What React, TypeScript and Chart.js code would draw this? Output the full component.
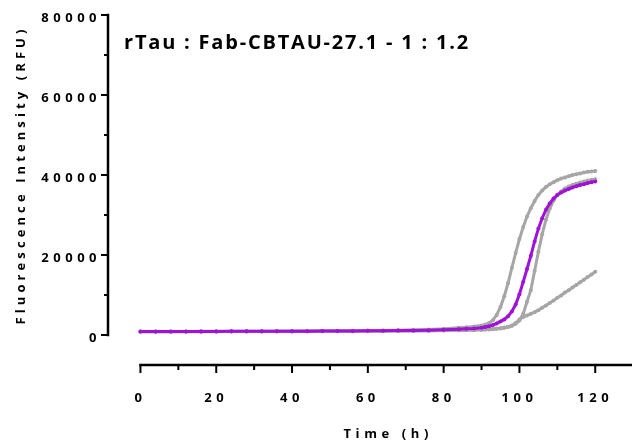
import { useEffect, useRef } from 'react';
import { Chart, registerables } from 'chart.js';

Chart.register(...registerables);

// ---- data ----
const chartTitle = 'rTau : Fab-CBTAU-27.1 - 1 : 1.2';
const xTitle = 'Time (h)';
const yTitle = 'Fluorescence Intensity (RFU)';

const xTickValues = [0, 20, 40, 60, 80, 100, 120];
const xMinorValues = [10, 30, 50, 70, 90, 110];
const yTickValues = [0, 20000, 40000, 60000, 80000];
const yMinorValues = [10000, 30000, 50000, 70000];

const times = [
  0, 4, 8, 12, 16, 20, 24, 28, 32, 36, 40, 44, 48, 52, 56, 60, 64, 68, 72, 76, 80,
  84, 86, 88, 90, 91, 92, 93, 94, 95, 96, 97, 98, 99, 100, 101, 102, 103, 104, 105,
  106, 107, 108, 109, 110, 111, 112, 113, 114, 115, 116, 117, 118, 119, 120,
];

const purple = [
  850, 860, 870, 880, 890, 900, 910, 920, 930, 940, 950, 960, 980, 1000, 1020, 1040, 1070, 1100, 1150, 1200, 1300,
  1450, 1550, 1650, 1800, 2000, 2200, 2500, 2900, 3400, 3900, 4700, 5900, 7600, 10200, 13300, 16500, 19800, 23400, 26600,
  29200, 31300, 32900, 34100, 35000, 35600, 36100, 36500, 36900, 37200, 37500, 37700, 38000, 38200, 38400,
];

const gray1 = [
  870, 880, 890, 900, 910, 920, 930, 940, 950, 960, 980, 1000, 1020, 1040, 1070, 1100, 1150, 1200, 1300, 1400, 1550,
  1800, 1950, 2150, 2400, 2600, 3000, 3700, 5000, 7000, 9700, 13000, 16800, 20500, 24000, 27000, 29600, 31700, 33500, 35000,
  36100, 37000, 37700, 38200, 38700, 39100, 39400, 39700, 40000, 40200, 40400, 40600, 40800, 40900, 41000,
];

const gray2 = [
  800, 810, 820, 830, 840, 850, 860, 870, 880, 890, 900, 910, 920, 930, 940, 950, 970, 990, 1020, 1050, 1100,
  1150, 1200, 1250, 1300, 1350, 1400, 1450, 1550, 1650, 1800, 2000, 2300, 2800, 3600, 5300, 8300, 11200, 16000, 20800,
  25200, 28800, 31600, 33600, 35000, 35900, 36600, 37100, 37500, 37800, 38100, 38400, 38600, 38800, 38950,
];

const gray3 = [
  820, 830, 840, 850, 860, 870, 880, 890, 900, 910, 920, 930, 940, 950, 960, 980, 1000, 1020, 1050, 1080, 1120,
  1180, 1230, 1280, 1330, 1380, 1430, 1500, 1600, 1700, 1850, 2050, 2400, 3000, 3900, 4500, 4900, 5300, 5700, 6200,
  6800, 7400, 8000, 8600, 9300, 9900, 10600, 11200, 11900, 12500, 13200, 13800, 14500, 15100, 15800,
];

const PURPLE = '#A012D8';
const GRAY = '#A6A6A6';
const FONT = '"Open Sans", Lato, sans-serif';

const X_MIN = -8.56;
const X_MAX = 129.7;
const Y_MIN = -7500;
const Y_MAX = 80000;

const prismAxes = {
  id: 'prismAxes',
  beforeDraw(chart: any) {
    chart.ctx.letterSpacing = '4.5px';
  },
  afterDraw(chart: any) {
    const ctx = chart.ctx as CanvasRenderingContext2D;
    const xs = chart.scales.x;
    const ys = chart.scales.y;
    const area = chart.chartArea;
    ctx.save();
    ctx.strokeStyle = '#000';
    ctx.lineWidth = 2.5;
    ctx.lineCap = 'butt';
    // y axis
    const yAxisX = area.left;
    const yTop = ys.getPixelForValue(Y_MAX);
    const yBot = ys.getPixelForValue(0);
    ctx.beginPath();
    ctx.moveTo(yAxisX, yTop - 1.2);
    ctx.lineTo(yAxisX, yBot + 1.2);
    ctx.stroke();
    ctx.lineWidth = 2;
    yTickValues.forEach((v) => {
      const p = ys.getPixelForValue(v);
      ctx.beginPath();
      ctx.moveTo(yAxisX, p);
      ctx.lineTo(yAxisX - 7, p);
      ctx.stroke();
    });
    yMinorValues.forEach((v) => {
      const p = ys.getPixelForValue(v);
      ctx.beginPath();
      ctx.moveTo(yAxisX, p);
      ctx.lineTo(yAxisX - 4, p);
      ctx.stroke();
    });
    // x axis
    const xAxisY = area.bottom;
    const xLeft = xs.getPixelForValue(0);
    ctx.lineWidth = 2.5;
    ctx.beginPath();
    ctx.moveTo(xLeft - 1.2, xAxisY);
    ctx.lineTo(area.right, xAxisY);
    ctx.stroke();
    ctx.lineWidth = 2;
    xTickValues.forEach((v) => {
      const p = xs.getPixelForValue(v);
      ctx.beginPath();
      ctx.moveTo(p, xAxisY);
      ctx.lineTo(p, xAxisY + 8);
      ctx.stroke();
    });
    xMinorValues.forEach((v) => {
      const p = xs.getPixelForValue(v);
      ctx.beginPath();
      ctx.moveTo(p, xAxisY);
      ctx.lineTo(p, xAxisY + 5);
      ctx.stroke();
    });

    // titles
    ctx.fillStyle = '#000';
    ctx.font = `bold 20px ${FONT}`;
    ctx.letterSpacing = '1.8px';
    ctx.textAlign = 'left';
    ctx.textBaseline = 'alphabetic';
    ctx.fillText(chartTitle, 124, 49);

    ctx.font = `bold 13px ${FONT}`;
    ctx.letterSpacing = '4.6px';
    ctx.textAlign = 'center';
    ctx.textBaseline = 'middle';
    ctx.fillText(xTitle, (xLeft + area.right) / 2 + 2, 434);

    ctx.letterSpacing = '4.1px';
    ctx.translate(21, (yTop + yBot) / 2);
    ctx.rotate(-Math.PI / 2);
    ctx.fillText(yTitle, 0, 0);
    ctx.restore();
    ctx.letterSpacing = '0px';
  },
};

export default function App() {
  const ref = useRef<HTMLCanvasElement>(null);
  useEffect(() => {
    document.body.style.margin = '0';
    const mk = (label: string, vals: number[], color: string, order: number) => ({
      label,
      data: times.map((t, i) => ({ x: t, y: vals[i] })),
      borderColor: color,
      backgroundColor: color,
      pointBackgroundColor: color,
      pointBorderWidth: 0,
      pointRadius: 2,
      borderWidth: 3,
      tension: 0,
      order,
    });
    const chart = new Chart(ref.current!, {
      type: 'line',
      data: {
        datasets: [
          mk('Purple', purple, PURPLE, 0),
          mk('Gray 1', gray1, GRAY, 1),
          mk('Gray 2', gray2, GRAY, 2),
          mk('Gray 3', gray3, GRAY, 3),
        ],
      },
      options: {
        animation: false,
        responsive: false,
        devicePixelRatio: 1,
        layout: { padding: { top: 15, left: 0, right: 0, bottom: 0 } },
        plugins: { legend: { display: false }, tooltip: { enabled: false }, title: { display: false } },
        scales: {
          x: {
            type: 'linear',
            min: X_MIN,
            max: X_MAX,
            grid: { display: false, drawTicks: false },
            border: { display: false },
            afterBuildTicks: (s: any) => {
              s.ticks = xTickValues.map((v) => ({ value: v }));
            },
            afterFit: (s: any) => {
              s.height = 82;
              s.paddingLeft = 0;
              s.paddingRight = 0;
            },
            ticks: {
              autoSkip: false,
              maxRotation: 0,
              padding: 25,
              color: '#000',
              font: { family: FONT, size: 13, weight: 'bold' },
              callback: (v: any) => String(v),
            },
          },
          y: {
            type: 'linear',
            min: Y_MIN,
            max: Y_MAX,
            grid: { display: false, drawTicks: false },
            border: { display: false },
            afterBuildTicks: (s: any) => {
              s.ticks = yTickValues.map((v) => ({ value: v }));
            },
            afterFit: (s: any) => {
              s.width = 108;
              s.paddingTop = 0;
              s.paddingBottom = 0;
            },
            ticks: {
              autoSkip: false,
              padding: 7,
              labelOffset: 3,
              color: '#000',
              font: { family: FONT, size: 13, weight: 'bold' },
              callback: (v: any) => String(v),
            },
          },
        },
      },
      plugins: [prismAxes],
    } as any);
    return () => chart.destroy();
  }, []);
  return (
    <div style={{ position: 'absolute', left: 0, top: 0, width: 636, height: 447 }}>
      <canvas ref={ref} width={636} height={447} />
    </div>
  );
}
